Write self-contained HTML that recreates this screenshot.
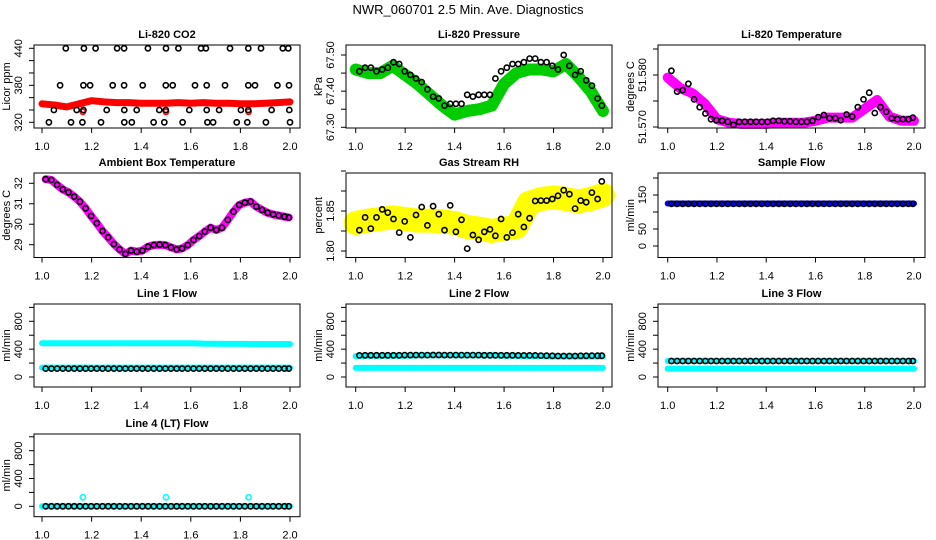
<!DOCTYPE html>
<html><head><meta charset="utf-8">
<style>
html,body{margin:0;padding:0;background:#fff;}
svg{display:block;font-family:"Liberation Sans",sans-serif;}
</style></head>
<body>
<svg id="chart" width="936" height="540" viewBox="0 0 936 540" xmlns="http://www.w3.org/2000/svg">
<rect x="0" y="0" width="936" height="540" fill="#fff"/>
<text x="468" y="14" text-anchor="middle" font-size="13">NWR_060701  2.5 Min. Ave. Diagnostics</text>
</svg>
<script>
// ---- shared x categories ----
const blackX = [1.015,1.038,1.061,1.084,1.107,1.130,1.153,1.176,1.198,1.221,1.244,1.267,1.290,1.313,1.336,1.359,1.382,1.405,1.428,1.451,1.474,1.497,1.520,1.543,1.565,1.588,1.611,1.634,1.657,1.680,1.703,1.726,1.749,1.772,1.795,1.818,1.841,1.864,1.887,1.910,1.932,1.955,1.978,1.995];
const bandX = [1.00,1.05,1.10,1.15,1.20,1.25,1.30,1.35,1.40,1.45,1.50,1.55,1.60,1.65,1.70,1.75,1.80,1.85,1.90,1.95,2.00];
const xTicks = [1.0,1.2,1.4,1.6,1.8,2.0];
const xTickLabels = ["1.0","1.2","1.4","1.6","1.8","2.0"];

// ---- CO2 ----
const co2BlackX = [1.096,1.169,1.216,1.303,1.331,1.427,1.5,1.55,1.641,1.661,1.758,1.832,1.883,1.971,1.993,
 1.073,1.167,1.194,1.285,1.331,1.406,1.499,1.527,1.617,1.664,1.738,1.832,1.859,1.949,1.996,
 1.048,1.14,1.167,1.261,1.332,1.382,1.473,1.499,1.594,1.664,1.714,1.802,1.832,1.926,1.997,
 1.028,1.117,1.163,1.238,1.332,1.362,1.45,1.493,1.567,1.667,1.69,1.785,1.828,1.903,2.0];
const co2BlackY = [440,440,440,440,440,440,440,440,440,440,440,440,440,440,440,
 380,380,380,380,380,380,380,380,380,380,380,380,380,380,380,
 340,340,340,340,340,340,340,340,340,340,340,340,340,340,340,
 320,320,320,320,320,320,320,320,320,320,320,320,320,320,320];
const co2Red = [350,348,345,350,355,353,352,352,351,351,351,352,351,352,351,351,350,350,351,352,353];
const co2RedOutX = [1.165,1.5,1.833];
const co2RedOutY = [337,337,337];

// ---- Pressure ----
const presGreen = [67.46,67.45,67.45,67.47,67.445,67.42,67.39,67.36,67.335,67.345,67.35,67.36,67.42,67.45,67.46,67.46,67.455,67.475,67.44,67.40,67.345];
const presBlack = [67.455,67.465,67.465,67.455,67.46,67.465,67.48,67.475,67.455,67.445,67.435,67.425,67.405,67.385,67.38,67.36,67.365,67.365,67.365,67.39,67.385,67.39,67.39,67.39,67.435,67.455,67.465,67.475,67.475,67.48,67.49,67.49,67.48,67.48,67.47,67.46,67.5,67.47,67.445,67.455,67.43,67.415,67.38,67.36];

// ---- Li-820 Temperature ----
const tempMag = [51.5795,51.5775,51.5765,51.5745,51.5715,51.5708,51.5706,51.5706,51.5706,51.5708,51.5708,51.5708,51.5712,51.5718,51.5718,51.5718,51.5735,51.5752,51.572,51.5712,51.5712];
const tempBlack = [51.5808,51.5768,51.5771,51.5783,51.5753,51.5738,51.5726,51.5715,51.5713,51.5712,51.571,51.5704,51.571,51.571,51.571,51.571,51.571,51.571,51.5712,51.5712,51.5711,51.5711,51.571,51.571,51.571,51.5712,51.5719,51.5723,51.5717,51.5717,51.5713,51.5724,51.572,51.5738,51.5753,51.5766,51.5727,51.5738,51.5729,51.5717,51.5715,51.5715,51.5715,51.5718];

// ---- Ambient Box Temperature ----
const ambMag = [32.2,32.16,31.92,31.70,31.56,31.35,31.10,30.78,30.40,30.05,29.67,29.36,29.03,28.77,28.55,28.71,28.66,28.71,28.90,28.98,29.0,28.98,28.87,28.77,28.82,28.98,29.23,29.42,29.64,29.83,29.72,29.83,30.21,30.61,30.94,31.05,31.10,30.86,30.70,30.56,30.48,30.42,30.37,30.33];
const ambBlack = [32.2,32.16,31.92,31.70,31.56,31.35,31.10,30.78,30.40,30.05,29.67,29.36,29.03,28.77,28.55,28.71,28.66,28.71,28.90,28.98,29.0,28.98,28.87,28.77,28.82,28.98,29.23,29.42,29.64,29.83,29.72,29.83,30.21,30.61,30.94,31.05,31.10,30.86,30.70,30.56,30.48,30.42,30.37,30.33];

// ---- Gas Stream RH ----
const rhYellow = [1.835,1.838,1.84,1.842,1.84,1.838,1.838,1.837,1.835,1.83,1.828,1.825,1.828,1.83,1.86,1.865,1.867,1.865,1.862,1.865,1.87];
const rhBlack = [1.826,1.842,1.828,1.842,1.852,1.848,1.840,1.823,1.837,1.817,1.845,1.855,1.832,1.856,1.846,1.826,1.857,1.824,1.839,1.803,1.820,1.814,1.824,1.827,1.819,1.840,1.817,1.823,1.846,1.830,1.841,1.8625,1.863,1.863,1.865,1.869,1.876,1.871,1.853,1.863,1.861,1.873,1.865,1.887];

// ---- Flows ----
const sampleBlue = [125,125,125,125,125,125,125,125,125,125,125,125,125,125,125,125,125,125,125,125,125];
const sampleBlack = [124,124,124,124,124,124,124,124,124,124,124,124,124,124,124,124,124,124,124,124,124,124,124,124,124,124,124,124,124,124,124,124,124,124,124,124,124,124,124,124,124,124,124,124];
const line1CyanHi = [485,485,485,485,485,485,485,485,485,485,485,485,485,480,478,476,475,474,474,474,474];
const line1CyanLo = [135,135,135,135,135,135,135,135,135,135,135,135,135,135,135,135,135,135,135,135,135];
const line1Black = [120,120,120,120,120,120,120,120,120,120,120,120,120,120,120,120,120,120,120,120,120,120,120,120,120,120,120,120,120,120,120,120,120,120,120,120,120,120,120,120,120,120,120,120];
const line2CyanHi = [300,305,305,305,305,310,310,310,310,310,310,310,305,305,300,300,295,295,295,295,295];
const line2CyanLo = [130,130,130,130,130,130,130,130,130,130,130,130,130,130,130,130,130,130,130,130,130];
const line2Black = [310,312,312,312,312,312,312,312,314,314,314,314,314,316,316,314,314,314,314,314,314,314,312,312,312,312,312,312,310,310,310,310,308,306,304,302,302,302,302,304,304,306,306,306];
const line3CyanHi = [230,230,230,230,230,230,230,230,230,230,230,230,230,230,230,230,230,230,230,230,230];
const line3CyanLo = [120,120,120,120,120,120,120,120,120,120,120,120,120,120,120,120,120,120,120,120,120];
const line3Black = [230,230,230,230,230,230,230,230,230,230,230,230,230,230,230,230,230,230,230,230,230,230,230,230,230,230,230,230,230,230,230,230,230,230,230,230,230,230,230,230,230,230,230,230];
const line4Cyan = [0,0,0,0,0,0,0,0,0,0,0,0,0,0,0,0,0,0,0,0,0];
const line4SpikeX = [1.165,1.5,1.833];
const line4SpikeY = [130,130,130];
const line4Black = [0,0,0,0,0,0,0,0,0,0,0,0,0,0,0,0,0,0,0,0,0,0,0,0,0,0,0,0,0,0,0,0,0,0,0,0,0,0,0,0,0,0,0,0];

// ---- y tick definitions ----
const co2YTicks = [320,340,360,380,400,420,440]; const co2YLabels = ["320","","","380","","","440"];
const presYTicks = [67.30,67.35,67.40,67.45,67.50]; const presYLabels = ["67.30","","67.40","","67.50"];
const tempYTicks = [51.570,51.575,51.580,51.585]; const tempYLabels = ["51.570","","51.580",""];
const ambYTicks = [29,30,31,32]; const ambYLabels = ["29","30","31","32"];
const rhYTicks = [1.80,1.825,1.85,1.875,1.90]; const rhYLabels = ["1.80","","1.85","",""];
const sfYTicks = [0,50,100,150,200]; const sfYLabels = ["0","50","","150",""];
const flowYTicks = [0,200,400,600,800,1000]; const flowYLabels = ["0","","400","","800",""];

const NS = "http://www.w3.org/2000/svg";
const svg = document.getElementById('chart');
function mk(tag, attrs, parent){ const e=document.createElementNS(NS,tag); for(const k in attrs) e.setAttribute(k,attrs[k]); (parent||svg).appendChild(e); return e; }

const cols = [{l:34,r:300,x0:42,x1:290},{l:346,r:612,x0:355.7,x1:603},{l:658,r:925,x0:667.7,x1:914}];
const rows = [{t:45,b:128},{t:173,b:257.5},{t:304,b:387},{t:434,b:516.7}];

function panel(cfg){
  const c=cols[cfg.col], rw=rows[cfg.row];
  const g=mk('g',{});
  
  
  const X=v=>c.x0+(v-1)*(c.x1-c.x0);
  const Y=v=>cfg.yp0+(v-cfg.yv0)*(cfg.yp1-cfg.yp0)/(cfg.yv1-cfg.yv0);
  const t=mk('text',{x:(c.l+c.r)/2,y:rw.t-7,'text-anchor':'middle','font-size':11,'font-weight':'bold'},g);
  t.textContent=cfg.title;
  
  
  // data layers
  const marks=mk('g',{},g);
  
  
  (cfg.bands||[]).forEach(b=>{
    const pts=b.x.map((xv,i)=>X(xv).toFixed(1)+','+Y(b.y[i]).toFixed(1)).join(' ');
    const pl=mk('polyline',{points:pts,fill:'none',stroke:b.color,'stroke-width':b.w,'stroke-linejoin':'round','stroke-linecap':'round'},marks);
    
    
  });
  (cfg.pts||[]).forEach(s=>{
    s.x.forEach((xv,i)=>{
      const ci=mk('circle',{cx:X(xv).toFixed(1),cy:Y(s.y[i]).toFixed(1),r:s.r||2.6,fill:'none',stroke:s.color,'stroke-width':s.sw||1.6},marks);
      
      
    });
  });
  // box
  const bx=mk('rect',{x:c.l,y:rw.t,width:c.r-c.l,height:rw.b-rw.t,fill:'none',stroke:'#000','stroke-width':1},g);
  
  
  // x axis
  const xa=mk('g',{},g);
  
  
  xTicks.forEach((v,i)=>{
    mk('line',{x1:X(v),x2:X(v),y1:rw.b,y2:rw.b+5,stroke:'#000'},xa);
    const tl=mk('text',{x:X(v),y:rw.b+22,'text-anchor':'middle','font-size':11},xa);
    tl.textContent=xTickLabels[i];
    
    
  });
  // y axis
  const ya=mk('g',{},g);
  
  
  cfg.yTicks.forEach((v,i)=>{
    const yy=Y(v);
    mk('line',{x1:c.l-5,x2:c.l,y1:yy,y2:yy,stroke:'#000'},ya);
    if(cfg.yLabels[i]){
      const tl=mk('text',{x:0,y:0,'text-anchor':'middle','font-size':11,transform:`translate(${c.l-12},${yy}) rotate(-90)`},ya);
      tl.textContent=cfg.yLabels[i];
      
      
    }
  });
  const yt=mk('text',{x:0,y:0,'text-anchor':'middle','font-size':11,transform:`translate(${c.l-24},${(rw.t+rw.b)/2}) rotate(-90)`},g);
  yt.textContent=cfg.ylab;
  
  
}

panel({name:'co2-panel',col:0,row:0,title:'Li-820 CO2',ylab:'Licor ppm',yv0:320,yp0:122.3,yv1:440,yp1:48.3,yTicks:co2YTicks,yLabels:co2YLabels,
  bands:[{name:'co2-red-band',x:bandX,y:co2Red,color:'#ff0000',w:7}],
  pts:[{name:'co2-red-point',x:co2RedOutX,y:co2RedOutY,color:'#ff0000'},{name:'co2-black-point',x:co2BlackX,y:co2BlackY,color:'#000'}]});
panel({name:'pressure-panel',col:1,row:0,title:'Li-820 Pressure',ylab:'kPa',yv0:67.30,yp0:127.3,yv1:67.50,yp1:55,yTicks:presYTicks,yLabels:presYLabels,
  bands:[{name:'pressure-green-band',x:bandX,y:presGreen,color:'#00cc00',w:12}],
  pts:[{name:'pressure-black-point',x:blackX,y:presBlack,color:'#000'}]});
panel({name:'li820-temp-panel',col:2,row:0,title:'Li-820 Temperature',ylab:'degrees C',yv0:51.570,yp0:127,yv1:51.580,yp1:75,yTicks:tempYTicks,yLabels:tempYLabels,
  bands:[{name:'temp-magenta-band',x:bandX,y:tempMag,color:'#ff00ff',w:10}],
  pts:[{name:'temp-black-point',x:blackX,y:tempBlack,color:'#000'}]});
panel({name:'ambient-temp-panel',col:0,row:1,title:'Ambient Box Temperature',ylab:'degrees C',yv0:29,yp0:244.7,yv1:32,yp1:183.3,yTicks:ambYTicks,yLabels:ambYLabels,
  bands:[{name:'ambient-magenta-band',x:blackX,y:ambMag,color:'#ff00ff',w:8}],
  pts:[{name:'ambient-black-point',x:blackX,y:ambBlack,color:'#000'}]});
panel({name:'rh-panel',col:1,row:1,title:'Gas Stream RH',ylab:'percent',yv0:1.80,yp0:251,yv1:1.85,yp1:211,yTicks:rhYTicks,yLabels:rhYLabels,
  bands:[{name:'rh-yellow-band',x:bandX,y:rhYellow,color:'#ffff00',w:24}],
  pts:[{name:'rh-black-point',x:blackX,y:rhBlack,color:'#000'}]});
panel({name:'sample-flow-panel',col:2,row:1,title:'Sample Flow',ylab:'ml/min',yv0:0,yp0:246,yv1:150,yp1:195,yTicks:sfYTicks,yLabels:sfYLabels,
  bands:[{name:'sample-blue-band',x:bandX,y:sampleBlue,color:'#0000ff',w:6}],
  pts:[{name:'sample-black-point',x:blackX,y:sampleBlack,color:'#000'}]});
panel({name:'line1-flow-panel',col:0,row:2,title:'Line 1 Flow',ylab:'ml/min',yv0:0,yp0:377,yv1:800,yp1:321.3,yTicks:flowYTicks,yLabels:flowYLabels,
  bands:[{name:'line1-cyan-high',x:bandX,y:line1CyanHi,color:'#00ffff',w:6},{name:'line1-cyan-low',x:bandX,y:line1CyanLo,color:'#00ffff',w:6}],
  pts:[{name:'line1-black-point',x:blackX,y:line1Black,color:'#000'}]});
panel({name:'line2-flow-panel',col:1,row:2,title:'Line 2 Flow',ylab:'ml/min',yv0:0,yp0:377,yv1:800,yp1:321.3,yTicks:flowYTicks,yLabels:flowYLabels,
  bands:[{name:'line2-cyan-high',x:bandX,y:line2CyanHi,color:'#00ffff',w:6},{name:'line2-cyan-low',x:bandX,y:line2CyanLo,color:'#00ffff',w:6}],
  pts:[{name:'line2-black-point',x:blackX,y:line2Black,color:'#000'}]});
panel({name:'line3-flow-panel',col:2,row:2,title:'Line 3 Flow',ylab:'ml/min',yv0:0,yp0:377,yv1:800,yp1:321.3,yTicks:flowYTicks,yLabels:flowYLabels,
  bands:[{name:'line3-cyan-high',x:bandX,y:line3CyanHi,color:'#00ffff',w:6},{name:'line3-cyan-low',x:bandX,y:line3CyanLo,color:'#00ffff',w:6}],
  pts:[{name:'line3-black-point',x:blackX,y:line3Black,color:'#000'}]});
panel({name:'line4-flow-panel',col:0,row:3,title:'Line 4 (LT) Flow',ylab:'ml/min',yv0:0,yp0:506.3,yv1:800,yp1:450.7,yTicks:flowYTicks,yLabels:flowYLabels,
  bands:[{name:'line4-cyan-band',x:bandX,y:line4Cyan,color:'#00ffff',w:6}],
  pts:[{name:'line4-cyan-spike',x:line4SpikeX,y:line4SpikeY,color:'#00ffff'},{name:'line4-black-point',x:blackX,y:line4Black,color:'#000'}]});
</script>
</body></html>
